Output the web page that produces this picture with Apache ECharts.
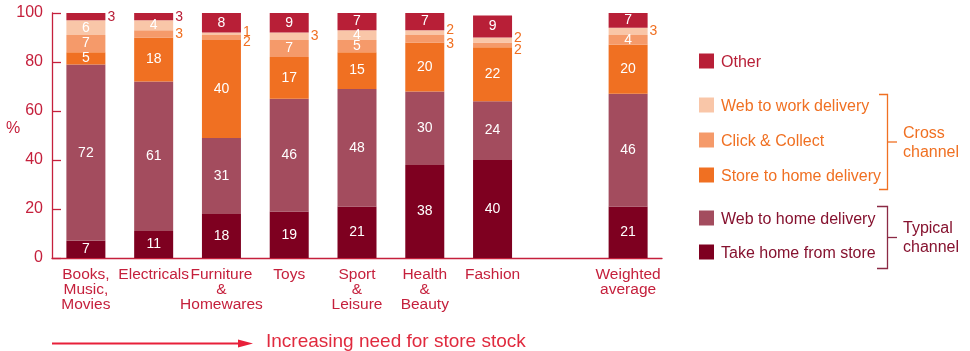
<!DOCTYPE html>
<html>
<head>
<meta charset="utf-8">
<script src="https://cdn.jsdelivr.net/npm/echarts@6/dist/echarts.min.js"></script>
<style>
html,body{margin:0;padding:0;background:#fff;}
#main{width:970px;height:351px;}
</style>
</head>
<body>
<div id="main"></div>
<script>
// ---- data ----
var categories = ['Books,\nMusic,\nMovies', 'Electricals', 'Furniture\n&\nHomewares', 'Toys', 'Sport\n&\nLeisure', 'Health\n&\nBeauty', 'Fashion', '', 'Weighted\naverage'];
var seriesNames = ['Take home from store', 'Web to home delivery', 'Store to home delivery', 'Click & Collect', 'Web to work delivery', 'Other'];
var takeHome     = [7, 11, 18, 19, 21, 38, 40, null, 21];
var webToHome    = [72, 61, 31, 46, 48, 30, 24, null, 46];
var storeToHome  = [5, 18, 40, 17, 15, 20, 22, null, 20];
var clickCollect = [7, 3, 2, 7, 5, 3, 2, null, 4];
var webToWork    = [6, 4, 1, 3, 4, 2, 2, null, 3];
var other        = [3, 3, 8, 9, 7, 7, 9, null, 7];
var yTicks = [0, 20, 40, 60, 80, 100];

// ---- styles ----
var RED = '#c5203c';
var ORANGE = '#f07022';
var MAROON = '#86122f';
var colors = ['#7e0020', '#a34c5e', '#f07022', '#f59a6a', '#f9c6a8', '#b81f37'];
var allData = [takeHome, webToHome, storeToHome, clickCollect, webToWork, other];

function isSmall(v) { return v != null && v <= 3; }

function buildData(si) {
  return allData[si].map(function (v, i) {
    if (v == null) return null;
    if (!isSmall(v)) return v;
    var off = [0, 0];
    if (si === 4 && isSmall(clickCollect[i])) off = [0, -2];
    if (si === 3 && isSmall(webToWork[i])) off = [0, 5];
    return {
      value: v,
      label: {
        position: 'right',
        distance: 2,
        offset: off,
        color: si === 5 ? '#b81f37' : ORANGE
      }
    };
  });
}

var series = seriesNames.map(function (name, si) {
  return {
    name: name,
    type: 'bar',
    stack: 'total',
    barWidth: 39,
    data: buildData(si),
    itemStyle: { color: colors[si] },
    label: {
      show: true,
      position: 'inside',
      color: '#ffffff',
      fontSize: 14,
      fontFamily: 'Liberation Sans'
    },
    emphasis: { disabled: true },
    animation: false
  };
});

// ---- custom legend ----
var legendItems = [
  { name: 'Other', y: 61, color: colors[5], text: '#b81f37' },
  { name: 'Web to work delivery', y: 105, color: colors[4], text: ORANGE },
  { name: 'Click & Collect', y: 140, color: colors[3], text: ORANGE },
  { name: 'Store to home delivery', y: 175, color: colors[2], text: ORANGE },
  { name: 'Web to home delivery', y: 218, color: colors[1], text: MAROON },
  { name: 'Take home from store', y: 252, color: colors[0], text: MAROON }
];
var graphics = [];
legendItems.forEach(function (it) {
  graphics.push({ type: 'rect', left: 699, top: it.y - 7.5, shape: { width: 15, height: 15 }, style: { fill: it.color } });
  graphics.push({ type: 'text', left: 721, top: it.y - 6, style: { text: it.name, fill: it.text, font: '16px "Liberation Sans"' } });
});
// brackets
graphics.push({ type: 'polyline', shape: { points: [[879, 94.5], [887.5, 94.5], [887.5, 189.5], [879, 189.5]] }, style: { stroke: ORANGE, lineWidth: 1.3, fill: null } });
graphics.push({ type: 'line', shape: { x1: 887.5, y1: 142, x2: 897, y2: 142 }, style: { stroke: ORANGE, lineWidth: 1.3 } });
graphics.push({ type: 'text', left: 903, top: 124, style: { text: 'Cross\nchannel', fill: ORANGE, font: '16px "Liberation Sans"', lineHeight: 19 } });
graphics.push({ type: 'polyline', shape: { points: [[877, 206.5], [887.5, 206.5], [887.5, 268.5], [877, 268.5]] }, style: { stroke: '#8b2a45', lineWidth: 1.3, fill: null } });
graphics.push({ type: 'line', shape: { x1: 887.5, y1: 237.5, x2: 897, y2: 237.5 }, style: { stroke: '#8b2a45', lineWidth: 1.3 } });
graphics.push({ type: 'text', left: 903, top: 219, style: { text: 'Typical\nchannel', fill: MAROON, font: '16px "Liberation Sans"', lineHeight: 19 } });
// % label
graphics.push({ type: 'text', left: 6, top: 121, style: { text: '%', fill: RED, font: '16px "Liberation Sans"' } });
// arrow
graphics.push({ type: 'line', shape: { x1: 52, y1: 343.5, x2: 240, y2: 343.5 }, style: { stroke: '#e8203a', lineWidth: 2.2 } });
graphics.push({ type: 'polygon', shape: { points: [[238, 339.5], [253, 343.5], [238, 347.5]] }, style: { fill: '#e8203a' } });
graphics.push({ type: 'text', left: 266, top: 332, style: { text: 'Increasing need for store stock', fill: '#e02a3e', font: '19px "Liberation Sans"' } });

var chart = echarts.init(document.getElementById('main'), null, { renderer: 'canvas' });
chart.setOption({
  animation: false,
  backgroundColor: '#ffffff',
  grid: { left: 52, right: 308, top: 13, bottom: 93, containLabel: false },
  xAxis: {
    type: 'category',
    data: categories,
    axisLine: { show: true, lineStyle: { color: RED, width: 1.3 } },
    axisTick: { show: false },
    axisLabel: {
      color: RED,
      fontSize: 15.5,
      lineHeight: 15,
      fontFamily: 'Liberation Sans',
      margin: 9,
      interval: 0
    }
  },
  yAxis: {
    type: 'value',
    min: yTicks[0],
    max: yTicks[yTicks.length - 1],
    interval: yTicks[1] - yTicks[0],
    axisLine: { show: true, lineStyle: { color: RED, width: 1.3 } },
    axisTick: { show: true, inside: true, length: 9, lineStyle: { color: RED, width: 1.3 } },
    splitLine: { show: false },
    axisLabel: {
      color: RED,
      fontSize: 16,
      fontFamily: 'Liberation Sans',
      margin: 9
    }
  },
  series: series,
  graphic: graphics
});
</script>
</body>
</html>
